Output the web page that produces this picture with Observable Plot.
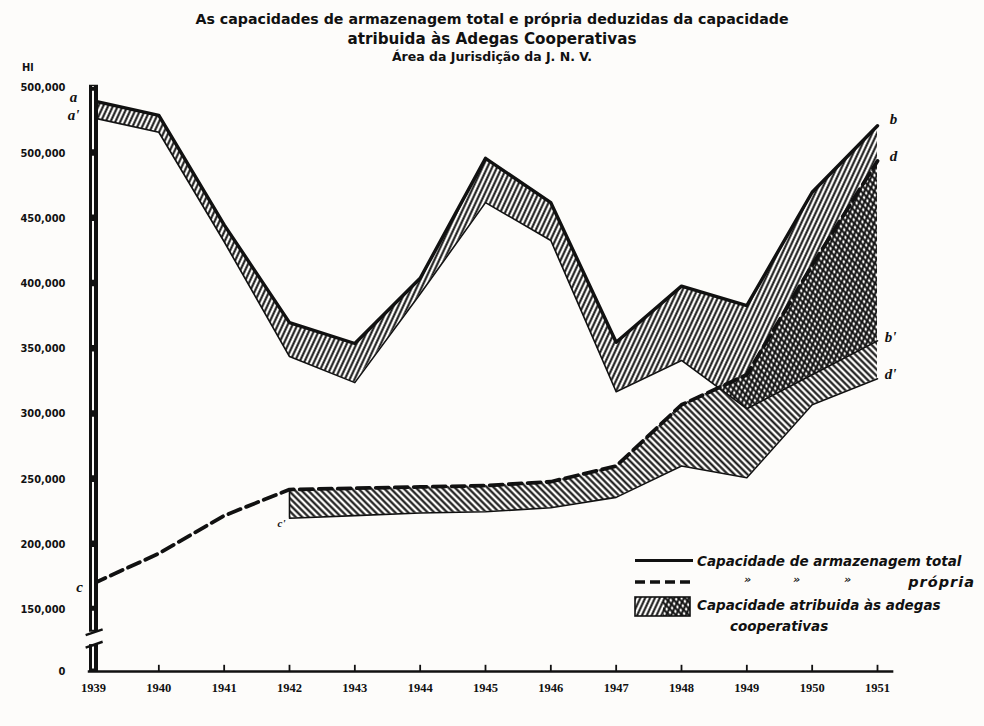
<!DOCTYPE html>
<html>
<head>
<meta charset="utf-8">
<script src="https://cdn.jsdelivr.net/npm/d3@7"></script>
<script src="https://cdn.jsdelivr.net/npm/@observablehq/plot@0.6"></script>
<style>
  body { margin:0; background:#fdfcfa; width:984px; height:726px; overflow:hidden; position:relative; color:#111; }
  .abs { position:absolute; white-space:nowrap; }
  .title { left:0; width:984px; text-align:center; font-family:"DejaVu Sans","Noto Sans",sans-serif; font-weight:bold; }
  .leg { font-family:"DejaVu Sans","Noto Sans",sans-serif; font-weight:bold; font-style:italic; font-size:13.5px; line-height:16px; }
  #chart { position:absolute; left:0; top:62px; }
</style>
</head>
<body>
<div class="abs title" style="top:10px;font-size:14.2px;line-height:18px;">As capacidades de armazenagem total e própria deduzidas da capacidade</div>
<div class="abs title" style="top:30px;font-size:15.2px;line-height:19px;">atribuida às Adegas Cooperativas</div>
<div class="abs title" style="top:49px;font-size:12.5px;line-height:15px;">Área da Jurisdição da J. N. V.</div>
<div class="abs" style="left:22px;top:61px;font-family:'DejaVu Sans Condensed',sans-serif;font-weight:bold;font-size:11px;line-height:14px;">Hl</div>
<div id="chart"></div>

<!-- legend -->
<div class="abs" style="left:635px;top:559px;width:58px;height:0;border-top:3.5px solid #111;"></div>
<div class="abs leg" style="left:697px;top:553px;">Capacidade de armazenagem total</div>
<svg class="abs" style="left:635px;top:578px;" width="60" height="8"><line x1="0" y1="4" x2="58" y2="4" stroke="#111" stroke-width="3.5" stroke-dasharray="10,5"/></svg>
<div class="abs leg" style="left:744px;top:572px;font-size:11px;">»</div>
<div class="abs leg" style="left:793px;top:572px;font-size:11px;">»</div>
<div class="abs leg" style="left:844px;top:572px;font-size:11px;">»</div>
<div class="abs leg" style="left:895px;top:574px;width:80px;text-align:right;font-size:14.5px;letter-spacing:1px;">própria</div>
<svg class="abs" style="left:634px;top:596px;" width="58" height="22">
  <rect x="1" y="1" width="28" height="19" fill="url(#hUp)"/>
  <rect x="29" y="1" width="27" height="19" fill="url(#hUp)"/>
  <rect x="29" y="1" width="27" height="19" fill="url(#hDown)"/>
  <rect x="1" y="1" width="55" height="19" fill="none" stroke="#111" stroke-width="1.6"/>
</svg>
<div class="abs leg" style="left:697px;top:597px;">Capacidade atribuida às adegas</div>
<div class="abs leg" style="left:730px;top:618px;">cooperativas</div>

<script>
// ---- data (Hl) ----
const years    = [1939, 1940, 1941, 1942, 1943, 1944, 1945, 1946, 1947, 1948, 1949, 1950, 1951];
// a — b : capacidade de armazenagem total
const total    = [540000, 529000, 445000, 370000, 354000, 404000, 496000, 462000, 355000, 398000, 383000, 470000, 521000];
// a' — b' : total deduzida da capacidade das adegas cooperativas
const totalNet = [527000, 516000, 432000, 344000, 324000, 392000, 462000, 433000, 317000, 341000, 304000, 330000, 356000];
// c — d : capacidade própria
const own      = [170000, 193000, 222000, 242000, 243000, 244000, 245000, 248000, 260000, 307000, 330000, 414000, 494000];
// c' — d' : própria deduzida da capacidade das adegas cooperativas
const ownNet   = [null, null, null, 220000, 222000, 224000, 225000, 228000, 236000, 260000, 251000, 307000, 327000];

const yTicks      = [0, 150000, 200000, 250000, 300000, 350000, 400000, 450000, 500000, 550000];
const yTickLabels = ["0", "150,000", "200,000", "250,000", "300,000", "350,000", "400,000", "450,000", "500,000", "500,000"];
const xTickLabels = ["1939", "1940", "1941", "1942", "1943", "1944", "1945", "1946", "1947", "1948", "1949", "1950", "1951"];

const rows = years.map((year, i) => ({year, total: total[i], totalNet: totalNet[i], own: own[i], ownNet: ownNet[i]}));
const lowRows = rows.filter(d => d.ownNet != null);
const last = rows.length - 1;

// broken y axis: the span 0 – 150,000 is squeezed (axis break)
const breakAt = 150000, squeeze = 0.3168;
const yBreak = v => v >= breakAt ? v : breakAt - (breakAt - v) * squeeze;

// axis bar pieces (broken between 0 and 150,000)
const barPieces = [{y1: 0, y2: 65000}, {y1: 95000, y2: 552000}];
const whiteSegs = [{y1: 6000, y2: 60000}, {y1: 100000, y2: 146000}];
for (let i = 1; i < yTicks.length - 1; i++) whiteSegs.push({y1: yTicks[i] + 2500, y2: yTicks[i + 1] - 2500});
whiteSegs.push({y1: 552500 - 2000, y2: 551000});
const breaks = [{y: 65000}, {y: 95000}];

const pointLabels = [
  {t: "a",  x: years[0],    y: total[0],       dx: -20, dy: -4, fs: 15},
  {t: "a'", x: years[0],    y: totalNet[0],    dx: -20, dy: -3, fs: 15},
  {t: "c",  x: years[0],    y: own[0],         dx: -14, dy: 4,  fs: 15},
  {t: "c'", x: lowRows[0].year, y: lowRows[0].ownNet, dx: -8, dy: 5, fs: 11},
  {t: "b",  x: years[last], y: total[last],    dx: 16, dy: -7, fs: 15},
  {t: "d",  x: years[last], y: own[last],      dx: 16, dy: -5, fs: 15},
  {t: "b'", x: years[last], y: totalNet[last], dx: 13, dy: -4, fs: 15},
  {t: "d'", x: years[last], y: ownNet[last],   dx: 13, dy: -5, fs: 15}
];

const ink = "#111";
const svg = Plot.plot({
  width: 984,
  height: 664,
  marginLeft: 88, marginRight: 0, marginTop: 0, marginBottom: 0,
  style: {background: "transparent"},
  x: {domain: [1939, 1951], range: [93, 877], axis: null},
  y: {transform: yBreak, domain: [yBreak(0), 550000], range: [609, 25.4], axis: null},
  marks: [
    // hatched bands (capacity attributed to the cooperatives)
    Plot.areaY(rows, {x: "year", y1: "totalNet", y2: "total", fill: "url(#hUp)"}),
    Plot.areaY(lowRows, {x: "year", y1: "ownNet", y2: "own", fill: "url(#hDown)"}),
    Plot.line(rows, {x: "year", y: "totalNet", stroke: ink, strokeWidth: 1.6}),
    Plot.line(lowRows, {x: "year", y: "ownNet", stroke: ink, strokeWidth: 1.6}),
    Plot.ruleX([lowRows[0]], {x: "year", y1: "ownNet", y2: "own", stroke: ink, strokeWidth: 1.6}),
    // main lines
    Plot.line(rows, {x: "year", y: "total", stroke: ink, strokeWidth: 3.4}),
    Plot.line(rows, {x: "year", y: "own", stroke: ink, strokeWidth: 3.8, strokeDasharray: "13,6"}),
    // x axis
    Plot.ruleY([0], {x1: years[0] - 0.08, x2: years[last] + 0.25, stroke: ink, strokeWidth: 2.6}),
    Plot.ruleX(years.slice(1), {x: d => d, y1: 0, y2: 15000, stroke: ink, strokeWidth: 1.8}),
    Plot.text(years, {x: d => d, y: 0, dy: 16, text: (d, i) => xTickLabels[i], fontFamily: "Liberation Serif", fontWeight: "bold", fontSize: 12.5, fill: ink}),
    // y axis: broken double bar
    Plot.ruleX(barPieces, {x: years[0], y1: "y1", y2: "y2", stroke: ink, strokeWidth: 9}),
    Plot.ruleX(whiteSegs, {x: years[0], y1: "y1", y2: "y2", stroke: "#fdfcfa", strokeWidth: 2, dx: -0.5}),
    Plot.link(breaks, {x1: years[0] - 0.12, x2: years[0] + 0.14, y1: d => d.y - 7000, y2: d => d.y + 7000, stroke: ink, strokeWidth: 2.4}),
    Plot.text(yTicks, {x: years[0], y: d => d, dx: -28, text: (d, i) => yTickLabels[i], textAnchor: "end", fontFamily: "DejaVu Sans Condensed", fontWeight: "bold", fontSize: 11, fill: ink}),
    // point letters
    Plot.text(pointLabels, {x: "x", y: "y", text: "t", fontFamily: "Liberation Serif", fontStyle: "italic", fontWeight: "bold", fontSize: 15, fill: ink})
  ]
});

document.getElementById("chart").appendChild(svg);
const defs = d3.select(svg).insert("defs", ":first-child");
function hatch(id, angle, gap, w) {
  const p = defs.append("pattern").attr("id", id).attr("patternUnits", "userSpaceOnUse")
    .attr("width", gap).attr("height", gap).attr("patternTransform", `rotate(${angle})`);
  p.append("line").attr("x1", gap / 2).attr("y1", -1).attr("x2", gap / 2).attr("y2", gap + 1)
    .attr("stroke", ink).attr("stroke-width", w);
}
hatch("hUp", 25, 4.4, 2.0);
hatch("hDown", -45, 4.6, 2.1);

// per-letter offsets and sizes
const textGroups = svg.querySelectorAll("g[aria-label='text']");
const letterG = textGroups[textGroups.length - 1];
letterG.querySelectorAll("text").forEach((el, i) => {
  const L = pointLabels[i];
  if (!L) return;
  const tr = el.getAttribute("transform") || "";
  el.setAttribute("transform", tr + ` translate(${L.dx},${L.dy})`);
  el.setAttribute("font-size", L.fs);
});
</script>
</body>
</html>
